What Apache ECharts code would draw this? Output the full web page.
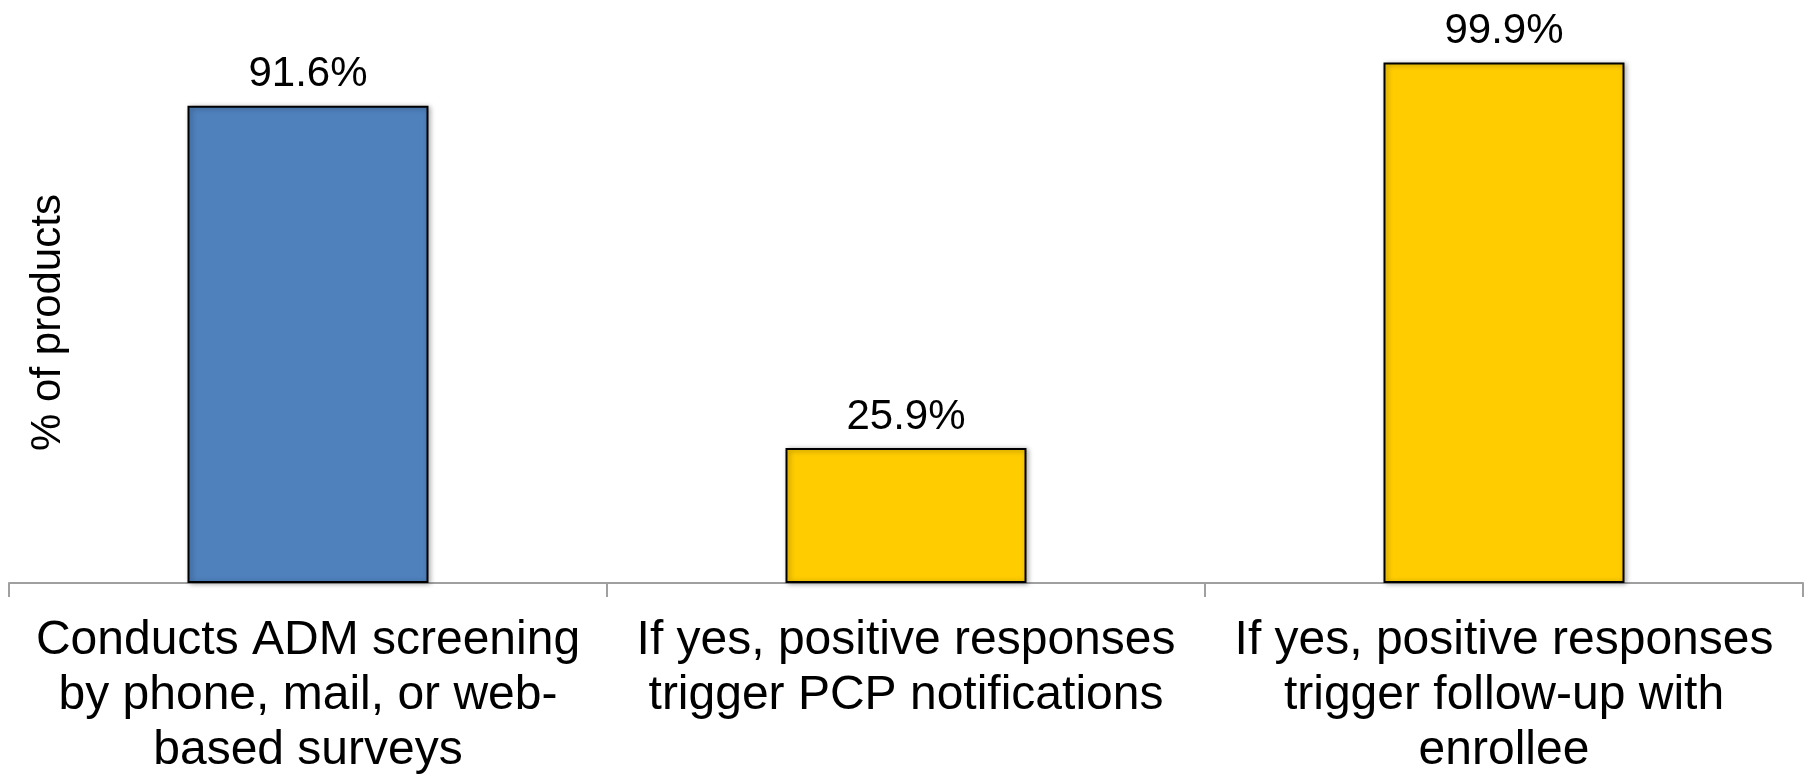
<!DOCTYPE html>
<html>
<head>
<meta charset="utf-8">
<script src="https://cdn.jsdelivr.net/npm/echarts@6/dist/echarts.min.js"></script>
<style>
	html, body { margin: 0; padding: 0; background: #fff; }
	#chart { width: 1808px; height: 778px; }
</style>
</head>
<body>
<div id="chart"></div>
<script>
var categories = [
	'Conducts ADM screening\nby phone, mail, or web-\nbased surveys',
	'If yes, positive responses\ntrigger PCP notifications',
	'If yes, positive responses\ntrigger follow-up with\nenrollee'
];
var values = [91.6, 25.9, 99.9];
var barColors = ['#4F81BD', '#FFCC00', '#FFCC00'];

var myChart = echarts.init(document.getElementById('chart'));

var option = {
	animation: false,
	backgroundColor: '#ffffff',
	textStyle: { fontFamily: '"Liberation Sans", Arial, sans-serif' },
	grid: { left: 9, right: 5, top: 62, bottom: 189, containLabel: false },
	xAxis: {
		type: 'category',
		data: categories,
		axisLine: { lineStyle: { color: '#A0A0A0', width: 2 } },
		axisTick: { show: true, length: 14, lineStyle: { color: '#A0A0A0', width: 2 } },
		axisLabel: {
			interval: 0,
			margin: 30,
			fontSize: 48,
			lineHeight: 55,
			color: '#000',
			align: 'center'
		}
	},
	yAxis: {
		type: 'value',
		min: 0,
		max: 100,
		name: '% of products',
		nameLocation: 'middle',
		nameRotate: 90,
		nameGap: -60,
		nameTextStyle: { fontSize: 42, color: '#000' },
		axisLine: { show: false },
		axisTick: { show: false },
		axisLabel: { show: false },
		splitLine: { show: false }
	},
	series: [{
		type: 'bar',
		barWidth: '40.3%',
		data: values.map(function (v, i) {
			return {
				value: v,
				itemStyle: { color: barColors[i] }
			};
		}),
		itemStyle: {
			borderColor: '#000',
			borderWidth: 2,
			shadowColor: 'rgba(0,0,0,0.35)',
			shadowBlur: 5,
			shadowOffsetX: 2,
			shadowOffsetY: 1
		},
		label: {
			show: true,
			position: 'top',
			distance: 10,
			fontSize: 42,
			color: '#000',
			formatter: function (p) { return p.value.toFixed(1) + '%'; }
		}
	}]
};

myChart.setOption(option);
</script>
</body>
</html>
